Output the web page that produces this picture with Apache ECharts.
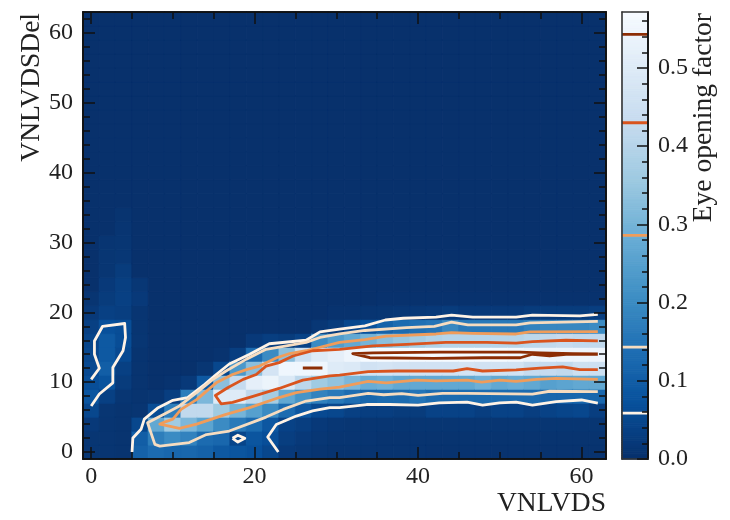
<!DOCTYPE html>
<html><head><meta charset="utf-8">
<style>html,body{margin:0;padding:0;background:#fff}#c{width:730px;height:520px}</style>
<script src="https://cdn.jsdelivr.net/npm/echarts@6/dist/echarts.min.js"></script>
</head><body><div id="c"></div>
<script>
// Column lists: eye-opening value at VNLVDSDel = 0,2,4,... for each VNLVDS = 0,2,...,62. Missing rows are background.
const background = 0.002;
const xValues = [0,2,4,6,8,10,12,14,16,18,20,22,24,26,28,30,32,34,36,38,40,42,44,46,48,50,52,54,56,58,60,62];
const columns = [
 [.012,.012,.02,.05,.08,.065,.055,.05,.045,.035,.02,.01],
 [.01,.01,.01,.012,.035,.075,.1,.09,.09,.07,.035,.025,.02,.012,.012,.01],
 [.008,.008,.008,.008,.012,.025,.035,.055,.062,.062,.03,.035,.032,.025,.015,.012,.01,.008],
 [.11,.10,.05,.01,.008,.008,.008,.008,.012,.01,.01,.02,.015],
 [.13,.17,.27,.06,.01],
 [.12,.2,.36,.17,.03,.006],
 [.12,.18,.31,.42,.17,.02],
 [.11,.13,.26,.42,.31,.09,.012],
 [.09,.12,.2,.36,.5,.33,.05,.006],
 [.08,.045,.16,.3,.5,.43,.23,.03],
 [.07,.08,.13,.25,.42,.52,.33,.13,.02],
 [.05,.065,.085,.2,.37,.54,.47,.2,.03],
 [.02,.03,.04,.13,.27,.49,.55,.33,.025],
 [.015,.02,.03,.085,.22,.41,.55,.45,.04],
 [.01,.015,.02,.055,.18,.36,.55,.5,.2,.015],
 [.008,.01,.015,.05,.16,.34,.5,.52,.24,.025,.006],
 [.008,.01,.012,.035,.135,.31,.49,.545,.27,.05,.006],
 [.008,.01,.012,.03,.12,.28,.46,.57,.30,.07,.01],
 [.008,.008,.012,.03,.13,.29,.47,.58,.33,.11,.012,.004],
 [.008,.008,.012,.025,.13,.27,.46,.6,.35,.13,.015,.004],
 [.008,.008,.012,.025,.15,.27,.46,.57,.37,.14,.018,.004],
 [.006,.008,.012,.04,.13,.27,.46,.57,.39,.15,.02,.004],
 [.006,.008,.012,.04,.13,.27,.46,.57,.40,.19,.025,.004],
 [.006,.008,.012,.04,.13,.27,.47,.57,.40,.16,.02,.004],
 [.006,.008,.012,.03,.13,.29,.46,.57,.40,.16,.02,.004],
 [.006,.008,.012,.04,.13,.27,.46,.565,.40,.16,.02,.004],
 [.006,.008,.012,.04,.13,.28,.46,.56,.40,.16,.02,.004],
 [.006,.008,.012,.03,.13,.27,.43,.545,.41,.18,.025,.004],
 [.006,.008,.012,.04,.12,.25,.43,.545,.42,.19,.025,.004],
 [.006,.008,.012,.045,.12,.26,.42,.545,.43,.19,.025,.004],
 [.006,.008,.012,.05,.12,.27,.45,.545,.42,.19,.025,.004],
 [.006,.008,.012,.03,.12,.27,.45,.545,.42,.2,.03,.004]
];
const levels = [0.0586, 0.143, 0.286, 0.43, 0.543];
const levelColors = ['#fff3e6','#f6dcc0','#f09c5a','#d9541e','#8c2d04'];
const blues = ['#08306b','#08519c','#2171b5','#4292c6','#6baed6','#9ecae1','#c6dbef','#deebf7','#f7fbff'];
const colorMax = 0.5716;

// Contour paths in data units [VNLVDS, VNLVDSDel]
const contourWhiteLeft = [[0,10.4],[1,12],[.4,14],[.4,15.9],[1.4,18],[4.1,18.4],[4.2,16.4],[3.9,14.5],[2.65,12.1],[2.65,9.9],[1,8.3],[0,6.6]];
const contourWhiteUpper = [[5,0],[5.1,2],[6.1,3.25],[6.5,4.7],[8.2,6.35],[10,7.4],[11.8,7.8],[13.9,9.7],[15.3,11.1],[16.9,12.6],[19.4,14],[21.8,15.5],[26.3,16],[28,17.2],[30.4,17.6],[33.5,18.05],[36,18.9],[38.2,19.15],[42.2,19.3],[44.1,19.6],[46.7,19.3],[52,19.3],[54,19.6],[59.8,19.5],[62,19.7]];
const contourWhiteLower = [[22.9,0],[21.6,2.15],[22.65,3.95],[25.1,5.15],[27.1,5.9],[29.2,6.35],[30.4,6.35],[33.7,6.8],[36.5,6.8],[40,6.7],[42.6,7.05],[46,7.15],[47.9,6.7],[50,7.05],[52,7.15],[54,6.7],[56.9,7.2],[60,7.45],[62,7]];
const contourWhiteBlob = [[17.3,1.96],[17.95,2.4],[18.8,1.96],[17.95,1.43],[17.3,1.96]];
const contourCream = [[62,18.7],[53.7,18.5],[52,18.2],[46.1,18.2],[44.1,18.6],[42,18],[38.6,17.8],[33.5,17.4],[30.4,16.9],[28,16.4],[26.3,15.7],[23.9,15.2],[21.4,14.7],[19,13.3],[16.5,11.6],[14.9,10.4],[12.9,8.5],[10.8,6.6],[9.2,5.6],[6.9,4.2],[7.8,1.1],[8.4,.85],[12,1.35],[14.1,2.5],[16.9,3],[20.2,4.45],[21.4,5],[23.5,6.1],[26.3,7.3],[29.2,7.8],[30.4,7.8],[33.9,8.4],[35.8,8.2],[38,8.35],[40,8.1],[43,8.4],[46,8.4],[54,8.3],[56.1,8.7],[62,8.65]];
const contourOrange = [[62,17.25],[53.7,17.2],[52,16.9],[46.7,17],[44.1,17.1],[42.2,16.9],[36.1,16.6],[33.5,16.1],[30.4,15.7],[26.3,14.5],[24.3,14.1],[22.7,13.5],[20.6,12.3],[19,11.8],[17.3,11.1],[15.3,9.9],[12.9,7.5],[11,6.1],[10,4.7],[8.8,4.2],[8.4,4],[10.8,3.4],[12.9,4],[16.5,5.4],[19.4,6.35],[23,7.8],[25.1,8.5],[28,9],[30.4,9.3],[33.9,10.1],[36.1,9.9],[39.8,10.3],[42.2,10.2],[46,10.3],[47.8,10],[50,10.3],[52,10.1],[54.5,10.4],[56.9,10.55],[62,10.4]];
const contourRed = [[62,15.9],[58.1,16],[54,15.8],[52,15.6],[48.4,15.7],[43.4,15.7],[38.6,15.4],[34.5,15.2],[30.4,14.7],[27.1,14.5],[24.7,13.75],[23,12.8],[21.4,12.3],[20.2,11.1],[18.6,10.4],[16.7,9.2],[15.2,8.1],[15.9,6.9],[17.3,7.1],[19.6,7.9],[23,9.1],[25.9,10.3],[29.2,10.9],[30.4,11],[33.9,11.5],[37.4,11.6],[44.3,11.6],[46,11.95],[47.9,11.6],[52,11.75],[54.9,12],[57.7,12.2],[59.8,11.8],[62,11.8]];
const contourDarkDash = [[25.9,12.03],[28.3,12.03]];
const contourDark = [[62,14.05],[59,14.1],[54.9,14.2],[52.5,14.3],[48,14.3],[42.6,14.3],[34.5,14.2],[32,14.1],[34.1,13.5],[41.9,13.4],[48,13.5],[52.5,13.5],[54,14],[56.1,13.75],[58.1,14],[62,14]];

const xMajor = [0,20,40,60], xMinor = [5,10,15,25,30,35,45,50,55];
const yMajor = [0,10,20,30,40,50,60], yMinor = [2,4,6,8,12,14,16,18,22,24,26,28,32,34,36,38,42,44,46,48,52,54,56,58,62];
const barMajor = [0,.1,.2,.3,.4,.5], barMinor = [.02,.04,.06,.08,.12,.14,.16,.18,.22,.24,.26,.28,.32,.34,.36,.38,.42,.44,.46,.48,.52,.54,.56];

const ink = '#111', font = 'Liberation Serif';
// colour for the hairline stroke that closes seams between neighbouring cells
function seam(v){
  const t = Math.min(1,Math.max(0,v/colorMax))*(blues.length-1), k = Math.min(blues.length-2,Math.floor(t)), f = t-k;
  const p = h=>[1,3,5].map(s=>parseInt(h.substr(s,2),16));
  const a = p(blues[k]), b = p(blues[k+1]);
  return 'rgb('+a.map((c,n)=>Math.round(c+(b[n]-c)*f)).join(',')+')';
}
const cellItem = (i,j,v)=>({value:[i,j,v],itemStyle:{borderColor:seam(v),borderWidth:0.6}});
const yCats = Array.from({length:32},(_,j)=>j*2);
const cells = [];
xValues.forEach((x,i)=>yCats.forEach((y,j)=>{
  const v = columns[i][j];
  cells.push(cellItem(i,j,v===undefined?background:v));
}));
const barSteps = 240;
const barCats = Array.from({length:barSteps},(_,k)=>(k+.5)*colorMax/barSteps);
const barCells = barCats.map((v,k)=>cellItem(0,k,v));

function valAxis(kind,gridIndex,pos,min,max,ticks,len,labels,fmt){
  const o = {type:'value',gridIndex,position:pos,min,max,scale:true,z:10,splitLine:{show:false},
    axisLine:{show:true,onZero:false,lineStyle:{color:ink,width:1.6}},
    axisTick:{show:true,inside:true,length:len,customValues:ticks,lineStyle:{color:ink,width:1.5}},
    axisLabel:{show:!!labels}};
  if(labels){o.axisLabel={show:true,customValues:labels,fontFamily:font,fontSize:24,color:'#222',margin:kind==='x'?6:10,formatter:fmt||(v=>String(v)),hideOverlap:false};}
  return o;
}
const hiddenCat = (gridIndex,data)=>({type:'category',gridIndex,data,show:false});
const frame = (pos,gridIndex,max)=>({type:'value',gridIndex,min:0,max,position:pos,z:10,splitLine:{show:false},axisTick:{show:false},axisLabel:{show:false},axisLine:{show:true,onZero:false,lineStyle:{color:'#333',width:1.6}}});

const xAxis = [
  hiddenCat(0,xValues),
  valAxis('x',0,'bottom',-1,63,xMajor,12,xMajor),
  valAxis('x',0,'bottom',-1,63,xMinor,7),
  valAxis('x',0,'top',-1,63,xMajor,12),
  valAxis('x',0,'top',-1,63,xMinor,7),
  hiddenCat(1,[0]),
  frame('bottom',1,1),
  frame('top',1,1)
];
const yAxis = [
  hiddenCat(0,yCats),
  valAxis('y',0,'left',-1,63,yMajor,12,yMajor),
  valAxis('y',0,'left',-1,63,yMinor,7),
  valAxis('y',0,'right',-1,63,yMajor,12),
  valAxis('y',0,'right',-1,63,yMinor,7),
  hiddenCat(1,barCats),
  valAxis('y',1,'right',0,colorMax,barMajor,11,barMajor,v=>v.toFixed(1)),
  valAxis('y',1,'right',0,colorMax,barMinor,6),
  frame('left',1,colorMax)
];

const contourLine = (name,pts,color)=>({type:'line',name,xAxisIndex:1,yAxisIndex:1,data:pts,showSymbol:false,symbol:'none',smooth:false,z:5,silent:true,animation:false,lineStyle:{color,width:2.8,join:'round'}});
const series = [
  {type:'heatmap',name:'Eye opening factor',xAxisIndex:0,yAxisIndex:0,data:cells,z:2,silent:true,progressive:0,animation:false},
  {type:'heatmap',name:'Colorbar',xAxisIndex:5,yAxisIndex:5,data:barCells,z:2,silent:true,progressive:0,animation:false},
  contourLine('L1',contourWhiteLeft,levelColors[0]),
  contourLine('L1',contourWhiteUpper,levelColors[0]),
  contourLine('L1',contourWhiteLower,levelColors[0]),
  contourLine('L1',contourWhiteBlob,levelColors[0]),
  contourLine('L2',contourCream,levelColors[1]),
  contourLine('L3',contourOrange,levelColors[2]),
  contourLine('L4',contourRed,levelColors[3]),
  contourLine('L5',contourDarkDash,levelColors[4]),
  contourLine('L5',contourDark,levelColors[4])
];
levels.forEach((lv,i)=>series.push({type:'line',name:'level'+i,xAxisIndex:6,yAxisIndex:6,data:[[0,lv],[1,lv]],showSymbol:false,symbol:'none',z:5,silent:true,animation:false,lineStyle:{color:levelColors[i],width:2.8}}));

const chart = echarts.init(document.getElementById('c'),null,{renderer:'canvas'});
chart.setOption({
  animation:false,
  backgroundColor:'#fff',
  textStyle:{fontFamily:font},
  grid:[{left:83,top:12,width:523,height:447,containLabel:false},{left:622,top:12,width:26,height:447,containLabel:false}],
  xAxis,yAxis,
  visualMap:{type:'continuous',show:false,min:0,max:colorMax,dimension:2,seriesIndex:[0,1],inRange:{color:blues}},
  series,
  graphic:[
    {type:'text',x:606,y:490,style:{text:'VNLVDS',fontFamily:font,fontSize:27.5,fill:'#222',textAlign:'right',textVerticalAlign:'top'}},
    {type:'text',x:32,y:13,rotation:Math.PI/2,style:{text:'VNLVDSDel',fontFamily:font,fontSize:27.5,fill:'#222',textAlign:'right',textVerticalAlign:'middle'}},
    {type:'text',x:704,y:13,rotation:Math.PI/2,style:{text:'Eye opening factor',fontFamily:font,fontSize:27.5,fill:'#222',textAlign:'right',textVerticalAlign:'middle'}}
  ]
});
</script></body></html>
